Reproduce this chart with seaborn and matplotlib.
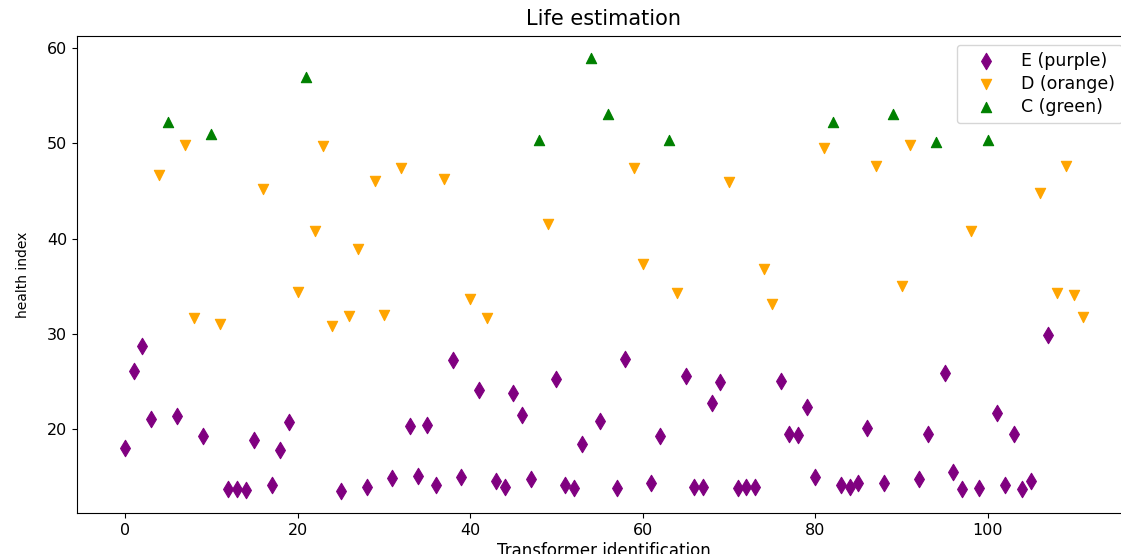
import matplotlib
matplotlib.use("Agg")
import matplotlib.pyplot as plt
import seaborn as sns


# transformer ids and health index per grade
E_IDS = [0, 1, 2, 3, 6, 9, 12, 13, 14, 15, 17, 18, 19, 25, 28, 31, 33, 34, 35, 36,
         38, 39, 41, 43, 44, 45, 46, 47, 50, 51, 52, 53, 55, 57, 58, 61, 62, 65, 66, 67,
         68, 69, 71, 72, 73, 76, 77, 78, 79, 80, 83, 84, 85, 86, 88, 92, 93, 95, 96, 97,
         99, 101, 102, 103, 104, 105, 107]
E_HI = [18.0, 26.1, 28.8, 21.1, 21.4, 19.3, 13.7, 13.7, 13.6, 18.9, 14.2, 17.8, 20.8, 13.5, 14.0, 14.9, 20.4, 15.1, 20.5, 14.2,
        27.3, 15.0, 24.1, 14.6, 14.0, 23.8, 21.5, 14.8, 25.3, 14.2, 13.8, 18.5, 20.9, 13.8, 27.4, 14.4, 19.3, 25.6, 14.0, 14.0,
        22.8, 25.0, 13.8, 14.0, 14.0, 25.1, 19.5, 19.4, 22.3, 15.0, 14.2, 14.0, 14.4, 20.1, 14.4, 14.8, 19.5, 25.9, 15.5, 13.7,
        13.8, 21.7, 14.2, 19.5, 13.7, 14.6, 29.9]

D_IDS = [4, 7, 8, 11, 16, 20, 22, 23, 24, 26, 27, 29, 30, 32, 37, 40, 42, 49, 59, 60,
         64, 70, 74, 75, 81, 87, 90, 91, 98, 106, 108, 109, 110, 111]
D_HI = [46.7, 49.8, 31.7, 31.1, 45.2, 34.4, 40.8, 49.7, 30.8, 31.9, 38.9, 46.1, 32.0, 47.4, 46.3, 33.7, 31.7, 41.5, 47.4, 37.4,
        34.3, 46.0, 36.8, 33.2, 49.5, 47.6, 35.0, 49.8, 40.8, 44.8, 34.3, 47.6, 34.1, 31.8]

C_IDS = [5, 10, 21, 48, 54, 56, 63, 82, 89, 94, 100]
C_HI = [52.3, 51.0, 57.0, 50.4, 59.0, 53.1, 50.4, 52.2, 53.1, 50.2, 50.4]

GRADES = [
    ("E (purple)", E_IDS, E_HI, "purple", "d", 70),
    ("D (orange)", D_IDS, D_HI, "orange", "v", 55),
    ("C (green)", C_IDS, C_HI, "green", "^", 55),
]


fig = plt.figure(figsize=(11.21, 5.54), dpi=100)
ax = fig.add_axes([0.0687, 0.074, 0.940, 0.861])

for label, ids, hi, color, marker, size in GRADES:
    sns.scatterplot(x=ids, y=hi, ax=ax, color=color, marker=marker, s=size,
                    edgecolor=color, linewidth=0.8, label=label)

ax.set_title("Life estimation", fontsize=15, pad=8)
ax.set_xlabel("Transformer identification", fontsize=12, labelpad=3)
ax.set_ylabel("health index", fontsize=10, labelpad=12)
ax.tick_params(labelsize=11.5)
ax.legend(loc="upper right", fontsize=12.5, labelspacing=0.3,
          handlelength=2.6, handletextpad=0.7)

fig.savefig("out.png", dpi=100)
